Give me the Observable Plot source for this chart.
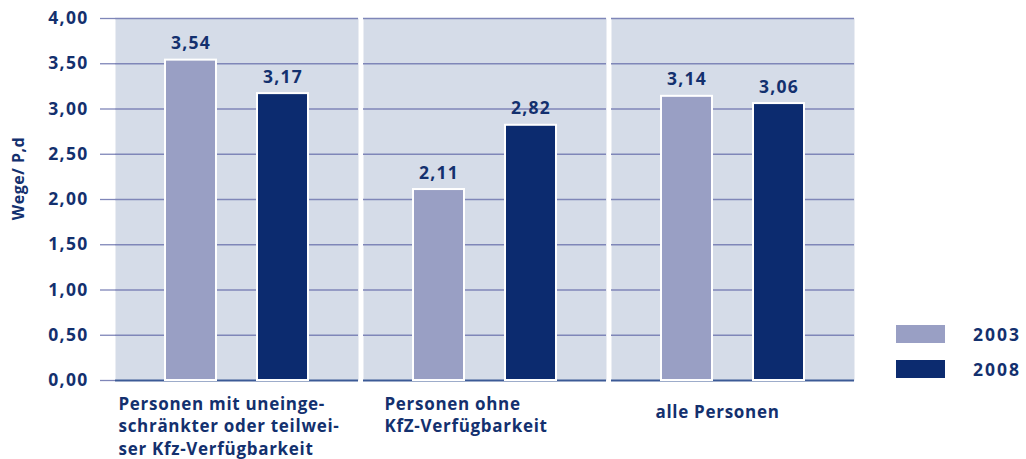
<!DOCTYPE html>
<html>
<head>
<meta charset="utf-8">
<script src="https://cdn.jsdelivr.net/npm/d3@7"></script>
<script src="https://cdn.jsdelivr.net/npm/@observablehq/plot@0.6"></script>
<style>
  body { margin: 0; background: #fff; }
  #wrap { position: relative; width: 1026px; height: 459px; font-family: "Open Sans", sans-serif; }
  .leg { position: absolute; display: flex; align-items: center; }
  .sw { width: 49px; height: 18px; }
  .lt { margin-left: 28px; font-weight: 700; font-size: 17.5px; color: #13306e; letter-spacing: 2px; line-height: 18px; }
</style>
</head>
<body>
<div id="wrap"></div>
<script>
// ---- data ----
const groups = [
  "Personen mit uneinge-\nschränkter oder teilwei-\nser Kfz-Verfügbarkeit",
  "Personen ohne\nKfZ-Verfügbarkeit",
  "alle Personen"
];
const years = ["2003", "2008"];
const values2003 = [3.54, 2.11, 3.14];
const values2008 = [3.17, 2.82, 3.06];
const yTicks = [0, 0.5, 1, 1.5, 2, 2.5, 3, 3.5, 4];
const yLabel = "Wege/ P,d";

// ---- styles ----
const colors = {"2003": "#999fc4", "2008": "#0c2b6f"};
const bg = "#d5dce8";
const gridColor = "#7f86b8";
const baseColor = "#3c5a96";
const textColor = "#13306e";
const labelDx = [3, 21, 44];
const labelDy = [13, 13, 21];

const data = [];
groups.forEach((g, i) => {
  data.push({group: g, year: years[0], value: values2003[i]});
  data.push({group: g, year: years[1], value: values2008[i]});
});
const fmt = v => d3.format(".2f")(v).replace(".", ",");

const plot = Plot.plot({
  width: 1026,
  height: 459,
  marginLeft: 115,
  marginRight: 171,
  marginTop: 18,
  marginBottom: 79,
  style: {fontFamily: "Open Sans, sans-serif", color: textColor, background: "white", overflow: "visible"},
  fx: {domain: groups, paddingInner: 0.02, paddingOuter: 0, axis: null, label: null},
  x: {domain: years, paddingInner: 0.446, paddingOuter: 0.5435, align: 0.5, axis: null},
  y: {domain: [0, 4], axis: null},
  color: {domain: years, range: years.map(y => colors[y])},
  marks: [
    Plot.frame({fill: bg, stroke: "none"}),
    Plot.ruleY(yTicks.filter(d => d > 0), {stroke: gridColor, strokeWidth: 1.3}),
    Plot.ruleY([0], {stroke: baseColor, strokeWidth: 2.2}),
    Plot.barY(data, {fx: "group", x: "year", y: "value", fill: "year", stroke: "white", strokeWidth: 2}),
    Plot.text(data, {fx: "group", x: "year", y: "value", text: d => fmt(d.value), dy: -11, lineAnchor: "bottom",
      fontSize: 17.5, fontWeight: 700, fill: textColor}),
    Plot.axisY({ticks: yTicks, tickFormat: fmt, tickSize: 15, tickPadding: 12, stroke: gridColor, strokeWidth: 1.3,
      fontSize: 17.5, fontWeight: 700, fill: textColor, label: null, facetAnchor: "left"}),
    ...groups.map((g, i) => Plot.text([g], {fx: d => d, text: d => d, frameAnchor: "bottom-left", textAnchor: "start",
      lineAnchor: "top", dx: labelDx[i], dy: labelDy[i], lineHeight: 1.33, fontSize: 17, fontWeight: 700,
      fill: textColor})),
    Plot.text([yLabel], {fx: [groups[0]], text: d => d, frameAnchor: "left", textAnchor: "middle", rotate: -90,
      dx: -97, dy: -21, fontSize: 16, fontWeight: 700, fill: textColor})
  ]
});
// letter spacing: numbers wider, labels slightly wider
d3.select(plot).selectAll("text").each(function() {
  const t = this.textContent.trim();
  let ls = "0.7px";
  if (/^\d,\d\d$/.test(t)) ls = "1.3px";
  else if (t === yLabel) ls = "0.5px";
  this.setAttribute("letter-spacing", ls);
  this.style.letterSpacing = ls;
});
const wrap = document.getElementById("wrap");
wrap.appendChild(plot);

years.forEach((y, i) => {
  const d = document.createElement("div");
  d.className = "leg";
  d.style.left = "896px";
  d.style.top = (325 + i * 35) + "px";
  d.innerHTML = `<div class="sw" style="background:${colors[y]}"></div><div class="lt">${y}</div>`;
  wrap.appendChild(d);
});
</script>
</body>
</html>
